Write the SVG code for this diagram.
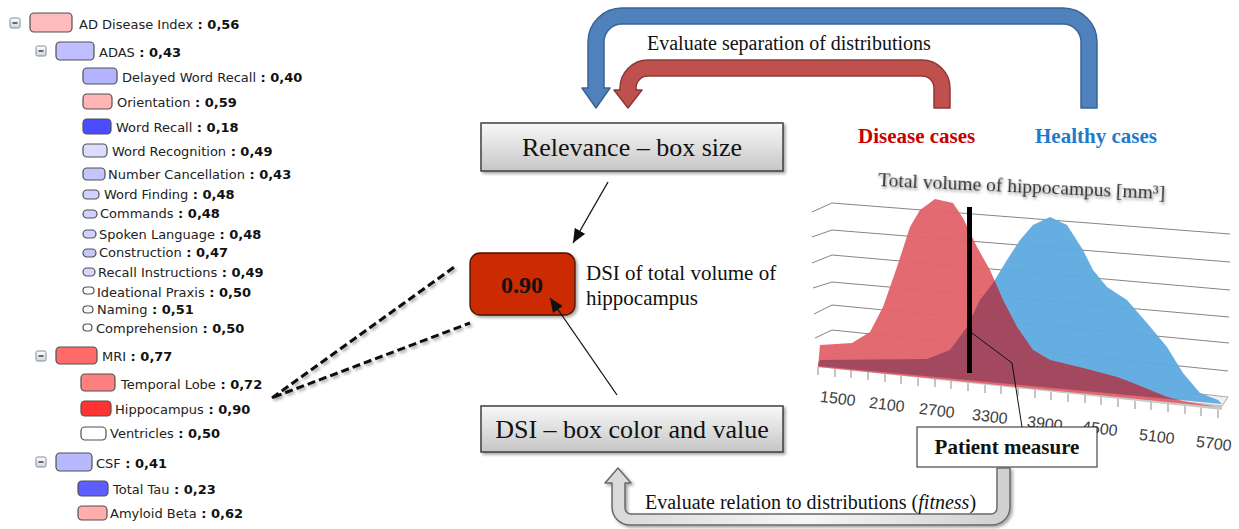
<svg xmlns="http://www.w3.org/2000/svg" width="1239" height="529" viewBox="0 0 1239 529">
<defs>
<style>
.t{font-family:"DejaVu Sans",Verdana,sans-serif;font-size:13px;fill:#222}
.b{font-weight:bold;fill:#111}
.tb{stroke:#505050;stroke-width:1.2}
.serif{font-family:"Liberation Serif","Times New Roman",serif;fill:#111}
.grid{stroke:#858585;stroke-width:1;fill:none}
.tick{stroke:#8a8a8a;stroke-width:1}
.ax{font-family:"Liberation Sans",Arial,sans-serif;font-size:16px;fill:#404040;text-anchor:middle}
</style>
<linearGradient id="gbox" x1="0" y1="0" x2="0" y2="1">
<stop offset="0" stop-color="#f8f8f8"/><stop offset="1" stop-color="#c6c6c6"/>
</linearGradient>
<linearGradient id="gmin" x1="0" y1="0" x2="0" y2="1">
<stop offset="0" stop-color="#ffffff"/><stop offset="1" stop-color="#cfd6df"/>
</linearGradient>
<linearGradient id="garr" x1="0" y1="0" x2="1" y2="0">
<stop offset="0" stop-color="#d8d8d8"/><stop offset="0.5" stop-color="#f6f6f6"/><stop offset="1" stop-color="#cfcfcf"/>
</linearGradient>
<filter id="sh" x="-10%" y="-20%" width="130%" height="150%">
<feDropShadow dx="2" dy="2" stdDeviation="1.5" flood-color="#000" flood-opacity="0.35"/>
</filter>
<filter id="tsh" x="-10%" y="-50%" width="120%" height="200%">
<feDropShadow dx="1" dy="2" stdDeviation="1.8" flood-color="#000" flood-opacity="0.45"/>
</filter>
<marker id="ah" viewBox="0 0 14 12" refX="14" refY="6" markerWidth="14" markerHeight="12" markerUnits="userSpaceOnUse" orient="auto">
<path d="M0,0 L14,6 L0,12 z" fill="#111"/>
</marker>
<g id="minus">
<rect x="0" y="0" width="10" height="10" rx="1.5" fill="url(#gmin)" stroke="#7f8c9c" stroke-width="1"/>
<line x1="2.5" y1="5" x2="7.5" y2="5" stroke="#333" stroke-width="1.4"/>
</g>
<clipPath id="blueclip">
<polygon points="820,360 927,359 950,350 967,327 980,300 993,283 1007,260 1020,240 1033,225 1050,217 1067,225 1083,250 1093,270 1107,287 1127,300 1147,323 1167,347 1183,373 1200,393 1218,400 1222,404 818,366"/>
</clipPath>
</defs>
<rect width="1239" height="529" fill="#ffffff"/>

<!-- Tree -->
<g id="tree">
<g id="n-ad"><use href="#minus" x="10" y="18"/><rect class="tb" x="30" y="13" width="42" height="19" rx="4" fill="#ffbbbb"/><text class="t" x="79" y="29">AD Disease Index<tspan class="b"> : 0,56</tspan></text></g>
<g id="n-adas"><use href="#minus" x="36" y="46"/><rect class="tb" x="56" y="42" width="38" height="18" rx="4" fill="#bfbfff"/><text class="t" x="99" y="57">ADAS<tspan class="b"> : 0,43</tspan></text></g>
<g id="n-dwr"><rect class="tb" x="83" y="68" width="34" height="16" rx="4" fill="#b3b3ff"/><text class="t" x="122" y="82">Delayed Word Recall<tspan class="b"> : 0,40</tspan></text></g>
<g id="n-ori"><rect class="tb" x="83" y="94" width="29" height="15" rx="4" fill="#ffb5b5"/><text class="t" x="117" y="107">Orientation<tspan class="b"> : 0,59</tspan></text></g>
<g id="n-wr"><rect class="tb" x="83" y="119" width="28" height="15" rx="4" fill="#4b4bff"/><text class="t" x="116" y="132">Word Recall<tspan class="b"> : 0,18</tspan></text></g>
<g id="n-wrec"><rect class="tb" x="83" y="144" width="24" height="13" rx="4" fill="#dcdcff"/><text class="t" x="112" y="156">Word Recognition<tspan class="b"> : 0,49</tspan></text></g>
<g id="n-nc"><rect class="tb" x="83" y="168" width="22" height="12" rx="4" fill="#c4c4ff"/><text class="t" x="108" y="179">Number Cancellation<tspan class="b"> : 0,43</tspan></text></g>
<g id="n-wf"><rect class="tb" x="83" y="190" width="16" height="9" rx="4" fill="#d0d0ff"/><text class="t" x="104" y="199">Word Finding<tspan class="b"> : 0,48</tspan></text></g>
<g id="n-cmd"><rect class="tb" x="83" y="210" width="14" height="8" rx="4" fill="#d0d0ff"/><text class="t" x="100" y="218">Commands<tspan class="b"> : 0,48</tspan></text></g>
<g id="n-sl"><rect class="tb" x="83" y="230" width="13" height="8" rx="4" fill="#d0d0ff"/><text class="t" x="99" y="239">Spoken Language<tspan class="b"> : 0,48</tspan></text></g>
<g id="n-con"><rect class="tb" x="83" y="249" width="13" height="8" rx="4" fill="#c8c8f8"/><text class="t" x="99" y="257">Construction<tspan class="b"> : 0,47</tspan></text></g>
<g id="n-ri"><rect class="tb" x="83" y="268" width="12" height="8" rx="4" fill="#d8d8ff"/><text class="t" x="98" y="277">Recall Instructions<tspan class="b"> : 0,49</tspan></text></g>
<g id="n-ip"><rect class="tb" x="83" y="287" width="11" height="7" rx="3.5" fill="#ffffff"/><text class="t" x="97" y="297">Ideational Praxis<tspan class="b"> : 0,50</tspan></text></g>
<g id="n-nam"><rect class="tb" x="83" y="306" width="10" height="7" rx="3.5" fill="#fff8f8"/><text class="t" x="97" y="314">Naming<tspan class="b"> : 0,51</tspan></text></g>
<g id="n-comp"><rect class="tb" x="83" y="324" width="9" height="7" rx="3.5" fill="#ffffff"/><text class="t" x="96" y="333">Comprehension<tspan class="b"> : 0,50</tspan></text></g>
<g id="n-mri"><use href="#minus" x="36" y="351"/><rect class="tb" x="56" y="347" width="41" height="17" rx="4" fill="#ff6b6b"/><text class="t" x="102" y="361">MRI<tspan class="b"> : 0,77</tspan></text></g>
<g id="n-tl"><rect class="tb" x="81" y="374" width="34" height="17" rx="4" fill="#ff8080"/><text class="t" x="121" y="389">Temporal Lobe<tspan class="b"> : 0,72</tspan></text></g>
<g id="n-hip"><rect class="tb" x="81" y="401" width="30" height="15" rx="4" fill="#ff3333"/><text class="t" x="115" y="414">Hippocampus<tspan class="b"> : 0,90</tspan></text></g>
<g id="n-ven"><rect class="tb" x="81" y="427" width="25" height="13" rx="4" fill="#ffffff"/><text class="t" x="110" y="438">Ventricles<tspan class="b"> : 0,50</tspan></text></g>
<g id="n-csf"><use href="#minus" x="36" y="457"/><rect class="tb" x="56" y="453" width="36" height="18" rx="4" fill="#b8b8ff"/><text class="t" x="96" y="468">CSF<tspan class="b"> : 0,41</tspan></text></g>
<g id="n-tau"><rect class="tb" x="78" y="481" width="30" height="15" rx="4" fill="#5e5eff"/><text class="t" x="113" y="494">Total Tau<tspan class="b"> : 0,23</tspan></text></g>
<g id="n-ab"><rect class="tb" x="78" y="506" width="29" height="14" rx="4" fill="#ffadad"/><text class="t" x="110" y="518">Amyloid Beta<tspan class="b"> : 0,62</tspan></text></g>
</g>

<!-- Chart -->
<g id="chart">
<polyline class="grid" points="812,212 832,203 1230,234"/>
<polyline class="grid" points="812,237 832,230 1230,262"/>
<polyline class="grid" points="812,263 832,255 1230,290"/>
<polyline class="grid" points="813,288 832,282 1229,317"/>
<polyline class="grid" points="814,314 832,305 1229,343"/>
<polyline class="grid" points="815,338 832,330 1228,371"/>
<polygon points="833,353 1228,397 1222,406 818,363" fill="#f0f0f0" stroke="#a8a8a8" stroke-width="1"/>
<polygon points="818,363 1222,406 1222,410 818,367" fill="#c8c8c8"/>
<polygon points="820,360 927,359 950,350 967,327 980,300 993,283 1007,260 1020,240 1033,225 1050,217 1067,225 1083,250 1093,270 1107,287 1127,300 1147,323 1167,347 1183,373 1200,393 1218,400 1222,404 818,366" fill="#5eabe1" opacity="0.96"/>
<polygon points="820,345 852,343 870,332 883,307 897,267 910,227 920,210 935,199 953,203 963,218 977,247 990,270 1003,300 1017,327 1033,350 1050,360 1083,368 1117,377 1133,383 1150,390 1167,397 1183,401 1200,404 1217,407 818,367" fill="#e2646a" opacity="0.96"/>
<polygon clip-path="url(#blueclip)" points="820,345 852,343 870,332 883,307 897,267 910,227 920,210 935,199 953,203 963,218 977,247 990,270 1003,300 1017,327 1033,350 1050,360 1083,368 1117,377 1133,383 1150,390 1167,397 1183,401 1200,404 1217,407 818,367" fill="#a2495f"/>
<g class="tick">
<line x1="818" y1="367" x2="818" y2="375"/><line x1="835" y1="369" x2="835" y2="377"/><line x1="851" y1="370" x2="851" y2="378"/><line x1="868" y1="372" x2="868" y2="380"/><line x1="885" y1="374" x2="885" y2="382"/><line x1="901" y1="376" x2="901" y2="384"/><line x1="918" y1="378" x2="918" y2="386"/><line x1="935" y1="379" x2="935" y2="387"/><line x1="951" y1="381" x2="951" y2="389"/><line x1="968" y1="383" x2="968" y2="391"/><line x1="985" y1="385" x2="985" y2="393"/><line x1="1001" y1="386" x2="1001" y2="394"/><line x1="1018" y1="388" x2="1018" y2="396"/><line x1="1035" y1="390" x2="1035" y2="398"/><line x1="1051" y1="392" x2="1051" y2="400"/><line x1="1068" y1="394" x2="1068" y2="402"/><line x1="1085" y1="395" x2="1085" y2="403"/><line x1="1101" y1="397" x2="1101" y2="405"/><line x1="1118" y1="399" x2="1118" y2="407"/><line x1="1135" y1="401" x2="1135" y2="409"/><line x1="1151" y1="402" x2="1151" y2="410"/><line x1="1168" y1="404" x2="1168" y2="412"/><line x1="1185" y1="406" x2="1185" y2="414"/><line x1="1201" y1="408" x2="1201" y2="416"/><line x1="1218" y1="410" x2="1218" y2="418"/>
</g>
<text class="ax" x="838" y="404" transform="rotate(7 838 398)">1500</text>
<text class="ax" x="887" y="410" transform="rotate(7 887 404)">2100</text>
<text class="ax" x="937" y="416" transform="rotate(7 937 410)">2700</text>
<text class="ax" x="990" y="422" transform="rotate(7 990 416)">3300</text>
<text class="ax" x="1045" y="429" transform="rotate(7 1045 423)">3900</text>
<text class="ax" x="1100" y="434" transform="rotate(7 1100 428)">4500</text>
<text class="ax" x="1157" y="442" transform="rotate(7 1157 436)">5100</text>
<text class="ax" x="1214" y="449" transform="rotate(7 1214 443)">5700</text>
<line x1="969.5" y1="207" x2="969.5" y2="373" stroke="#000" stroke-width="5"/>
<text class="serif" x="878" y="186" font-size="19.5" style="fill:#333" filter="url(#tsh)" transform="rotate(2.6 878 186)">Total volume of hippocampus [mm³]</text>
<text class="serif" x="858" y="143" font-size="21" font-weight="bold" style="fill:#c80000">Disease cases</text>
<text class="serif" x="1035" y="143" font-size="21" font-weight="bold" style="fill:#1f7acc">Healthy cases</text>
</g>

<!-- Nodes -->
<g id="relevance">
<rect x="481" y="123" width="302" height="48" fill="url(#gbox)" stroke="#3f3f3f" stroke-width="1.5" filter="url(#sh)"/>
<text class="serif" x="632" y="156" font-size="26" text-anchor="middle">Relevance – box size</text>
</g>
<g id="dsi-box">
<rect x="481" y="406" width="302" height="46" fill="url(#gbox)" stroke="#3f3f3f" stroke-width="1.5" filter="url(#sh)"/>
<text class="serif" x="632" y="438" font-size="26" text-anchor="middle">DSI – box color and value</text>
</g>
<g id="value-box">
<rect x="470" y="253" width="105" height="62" rx="10" fill="#cc2a00" stroke="#4a1408" stroke-width="1.3" filter="url(#sh)"/>
<text class="serif" x="522" y="293" font-size="24" font-weight="bold" text-anchor="middle">0.90</text>
</g>
<g id="dsi-label">
<text class="serif" x="586" y="280" font-size="21">DSI of total volume of</text>
<text class="serif" x="586" y="305" font-size="21">hippocampus</text>
</g>
<g id="patient">
<rect x="917" y="427" width="180" height="40" fill="#ffffff" stroke="#222" stroke-width="1"/>
<text class="serif" x="1007" y="454" font-size="21" font-weight="bold" text-anchor="middle">Patient measure</text>
</g>

<!-- Connectors -->
<g id="connectors">
<path id="blue-arrow" d="M 1097 108 L 1097 42 A 34 34 0 0 0 1063 8 L 622 8 A 34 34 0 0 0 588 42 L 588 88 L 582 88 L 596 108 L 610 88 L 604 88 L 604 42 A 18 18 0 0 1 622 24 L 1063 24 A 18 18 0 0 1 1081 42 L 1081 108 Z" fill="#4f81bd" stroke="#3a6494" stroke-width="1.5" stroke-linejoin="round"/>
<path id="red-arrow" d="M 950 108 L 950 88 A 28 28 0 0 0 922 60 L 648 60 A 28 28 0 0 0 620 88 L 620 90 L 614 90 L 628 108 L 642 90 L 636 90 L 636 88 A 12 12 0 0 1 648 76 L 922 76 A 12 12 0 0 1 934 88 L 934 108 Z" fill="#c0504d" stroke="#8c3836" stroke-width="1.5" stroke-linejoin="round"/>
<path id="grey-arrow" d="M 997 468 L 997 508 A 6 6 0 0 1 991 514 L 631 514 A 6 6 0 0 1 625 508 L 625 483 L 631 483 L 618 468 L 605 483 L 612 483 L 612 507 A 18 18 0 0 0 630 525 L 992 525 A 18 18 0 0 0 1010 507 L 1010 468 Z" fill="url(#garr)" stroke="#6a6a6a" stroke-width="1.5" stroke-linejoin="round" filter="url(#sh)"/>
<line x1="608" y1="182" x2="573" y2="243" stroke="#111" stroke-width="1.3" marker-end="url(#ah)"/>
<line x1="617" y1="395" x2="550" y2="298" stroke="#111" stroke-width="1.3" marker-end="url(#ah)"/>
<g filter="url(#sh)">
<line x1="272" y1="398" x2="457" y2="265" stroke="#111" stroke-width="3" stroke-dasharray="8 4"/>
<line x1="274" y1="397" x2="470" y2="323" stroke="#111" stroke-width="3" stroke-dasharray="8 4"/>
</g>
<polyline points="972,333 1012,363 1022,427" fill="none" stroke="#111" stroke-width="1"/>
<text class="serif" x="647" y="50" font-size="20">Evaluate separation of distributions</text>
<text class="serif" x="645" y="509" font-size="20">Evaluate relation to distributions (<tspan font-style="italic">fitness</tspan>)</text>
</g>
</svg>
